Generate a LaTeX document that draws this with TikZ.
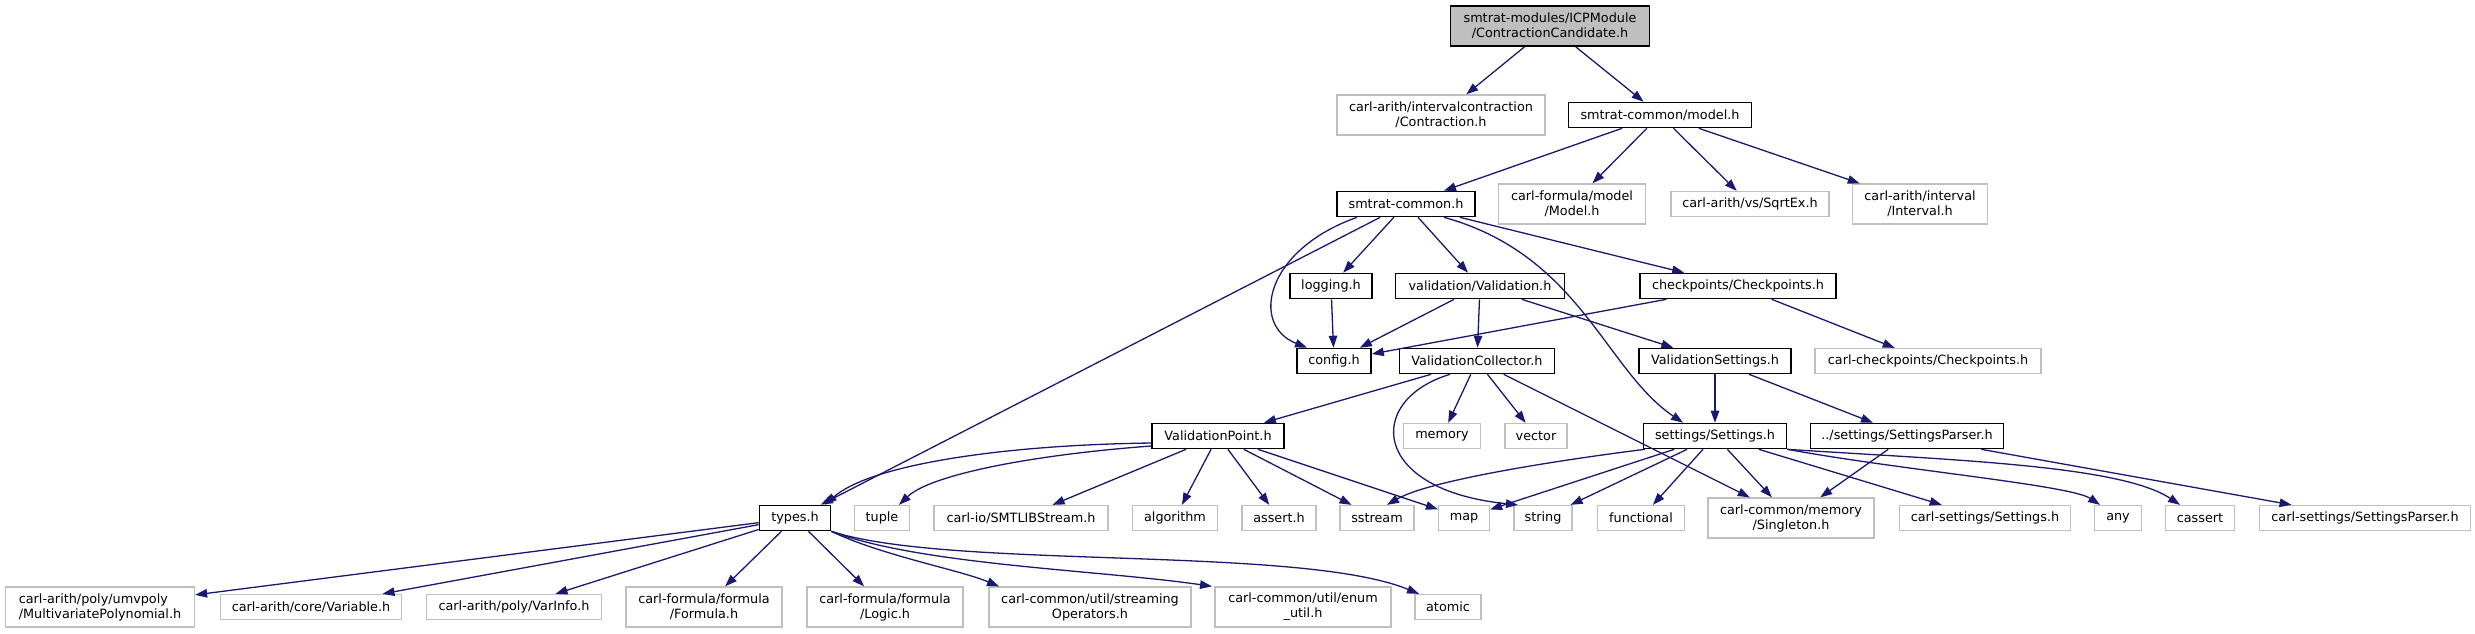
\documentclass[tikz,border=0pt]{standalone}
\usepackage{fontspec}
\setmainfont{DejaVu Sans}
\usetikzlibrary{arrows.meta}
\definecolor{edgeblue}{HTML}{191970}
\definecolor{extgray}{HTML}{BFBFBF}

\begin{document}
\begin{tikzpicture}[x=1pt, y=-1pt, >={Triangle[length=12pt,width=8.5pt]},
    file/.style={draw=black, line width=1.6pt, fill=white, inner sep=0pt,
      minimum height=25, align=center, font=\fontsize{12.8}{15}\selectfont},
    ext/.style={file, draw=extgray, line width=1.3pt},
    dep/.style={->, edgeblue, line width=1.3pt}]
    \useasboundingbox (0,0) rectangle (2475,633);

    % Rot og modell
    \node[file, fill=extgray, minimum width=199, minimum height=40] (root) at (1550,26)
      {smtrat-modules/ICPModule\\/ContractionCandidate.h};
    \node[ext, minimum width=208, minimum height=40] (contraction) at (1441,115)
      {carl-arith/intervalcontraction\\/Contraction.h};
    \node[file, minimum width=183] (model) at (1660,115) {smtrat-common/model.h};
    \node[file, minimum width=138] (common) at (1406,204) {smtrat-common.h};
    \node[ext, minimum width=147, minimum height=40] (carlmodel) at (1572,204) {carl-formula/model\\/Model.h};
    \node[ext, minimum width=158] (sqrtex) at (1750,204) {carl-arith/vs/SqrtEx.h};
    \node[ext, minimum width=135, minimum height=40] (interval) at (1920,204) {carl-arith/interval\\/Interval.h};

    % Validering og sjekkpunkter
    \node[file, minimum width=82] (logging) at (1331,286) {logging.h};
    \node[file, minimum width=169] (validation) at (1480,286) {validation/Validation.h};
    \node[file, minimum width=196] (checkpoints) at (1738,286) {checkpoints/Checkpoints.h};
    \node[file, minimum width=74] (config) at (1334,361) {config.h};
    \node[file, minimum width=155] (collector) at (1477,361) {ValidationCollector.h};
    \node[file, minimum width=152] (vsettings) at (1715,361) {ValidationSettings.h};
    \node[ext, minimum width=226] (carlcheck) at (1928,361) {carl-checkpoints/Checkpoints.h};
    \node[file, minimum width=132] (vpoint) at (1218,436) {ValidationPoint.h};
    \node[ext, minimum width=77] (memory) at (1442,436) {memory};
    \node[ext, minimum width=62] (vector) at (1536,436) {vector};
    \node[file, minimum width=143] (settings) at (1715,436) {settings/Settings.h};
    \node[file, minimum width=193] (parser) at (1907,436) {../settings/SettingsParser.h};

    % Nest nederste rad
    \node[file, minimum width=71] (types) at (795,518) {types.h};
    \node[ext, minimum width=55] (tuple) at (882,518) {tuple};
    \node[ext, minimum width=174] (smtlib) at (1021,518) {carl-io/SMTLIBStream.h};
    \node[ext, minimum width=85] (algorithm) at (1175,518) {algorithm};
    \node[ext, minimum width=74] (assert) at (1279,518) {assert.h};
    \node[ext, minimum width=74] (sstream) at (1377,518) {sstream};
    \node[ext, minimum width=51] (map) at (1464,518) {map};
    \node[ext, minimum width=58] (string) at (1543,518) {string};
    \node[ext, minimum width=87] (functional) at (1641,518) {functional};
    \node[ext, minimum width=166, minimum height=40] (singleton) at (1791,518) {carl-common/memory\\/Singleton.h};
    \node[ext, minimum width=171] (csettings) at (1985,518) {carl-settings/Settings.h};
    \node[ext, minimum width=47] (any) at (2118,518) {any};
    \node[ext, minimum width=69] (cassert) at (2200,518) {cassert};
    \node[ext, minimum width=211] (cparser) at (2365,518) {carl-settings/SettingsParser.h};

    % Nederste rad
    \node[ext, minimum width=189, minimum height=40, align=left] (multivar) at (100,607)
      {carl-arith/poly/umvpoly\\/MultivariatePolynomial.h};
    \node[ext, minimum width=181] (variable) at (311,607) {carl-arith/core/Variable.h};
    \node[ext, minimum width=175] (varinfo) at (514,607) {carl-arith/poly/VarInfo.h};
    \node[ext, minimum width=156, minimum height=40] (formula) at (704,607) {carl-formula/formula\\/Formula.h};
    \node[ext, minimum width=156, minimum height=40] (logic) at (885,607) {carl-formula/formula\\/Logic.h};
    \node[ext, minimum width=202, minimum height=40] (streamops) at (1090,607) {carl-common/util/streaming\\Operators.h};
    \node[ext, minimum width=176, minimum height=40] (enumutil) at (1303,607) {carl-common/util/enum\\\_util.h};
    \node[ext, minimum width=66] (atomic) at (1448,607) {atomic};

    % Avhengigheter
    \draw[dep] (root) -- (contraction);
    \draw[dep] (root) -- (model);
    \draw[dep] (model) -- (common);
    \draw[dep] (model) -- (carlmodel);
    \draw[dep] (model) -- (sqrtex);
    \draw[dep] (model) -- (interval);

    \draw[dep] ([xshift=-49pt]common.south) .. controls (1265,250) and (1250,325) .. ([xshift=-27pt]config.north);
    \draw[dep] (common) -- (types);
    \draw[dep] (common) -- (logging);
    \draw[dep] (common) -- (validation);
    \draw[dep] ([xshift=38pt]common.south) .. controls (1580,255) and (1605,370) .. ([xshift=-32pt]settings.north);
    \draw[dep] (common) -- (checkpoints);

    \draw[dep] (logging) -- (config);
    \draw[dep] (validation) -- (config);
    \draw[dep] (validation) -- (collector);
    \draw[dep] (validation) -- (vsettings);
    \draw[dep] (checkpoints) -- (config);
    \draw[dep] (checkpoints) -- (carlcheck);

    \draw[dep] (collector) -- (vpoint);
    \draw[dep] (collector) -- (memory);
    \draw[dep] (collector) -- (vector);
    \draw[dep] ([xshift=-27pt]collector.south) .. controls (1365,400) and (1370,490) .. ([xshift=-25pt]string.north);
    \draw[dep] (collector) -- (singleton);
    \draw[dep] (vsettings) -- (settings);
    \draw[dep] (vsettings) -- (parser);

    \draw[dep] ([yshift=-7pt]vpoint.west) .. controls (1000,445) and (870,465) .. ([xshift=30pt]types.north);
    \draw[dep] ([yshift=-10pt]vpoint.west) .. controls (1030,455) and (930,475) .. ([xshift=17pt]tuple.north);
    \draw[dep] (vpoint) -- (smtlib);
    \draw[dep] (vpoint) -- (algorithm);
    \draw[dep] (vpoint) -- (assert);
    \draw[dep] (vpoint) -- (sstream);
    \draw[dep] (vpoint) -- (map);

    \draw[dep] ([xshift=-70pt]settings.south) .. controls (1560,460) and (1430,480) .. ([xshift=10pt]sstream.north);
    \draw[dep] (settings) -- (map);
    \draw[dep] (settings) -- (string);
    \draw[dep] (settings) -- (functional);
    \draw[dep] (settings) -- (singleton);
    \draw[dep] (settings) -- (csettings);
    \draw[dep] (settings.south east) .. controls (1900,470) and (2070,485) .. ([xshift=-18pt]any.north);
    \draw[dep] (settings.south east) .. controls (1950,460) and (2120,465) .. ([xshift=-20pt]cassert.north);
    \draw[dep] (parser) -- (singleton);
    \draw[dep] (parser) -- (cparser);

    \draw[dep] (types) -- (multivar);
    \draw[dep] (types) -- (variable);
    \draw[dep] (types) -- (varinfo);
    \draw[dep] (types) -- (formula);
    \draw[dep] (types) -- (logic);
    \draw[dep] (types.south east) .. controls (880,555) and (960,570) .. ([xshift=-91pt]streamops.north);
    \draw[dep] (types.south east) .. controls (920,565) and (1100,570) .. ([xshift=-91pt]enumutil.north);
    \draw[dep] (types.south east) .. controls (950,570) and (1300,545) .. ([xshift=-29pt]atomic.north);
  \end{tikzpicture}
\end{document}
